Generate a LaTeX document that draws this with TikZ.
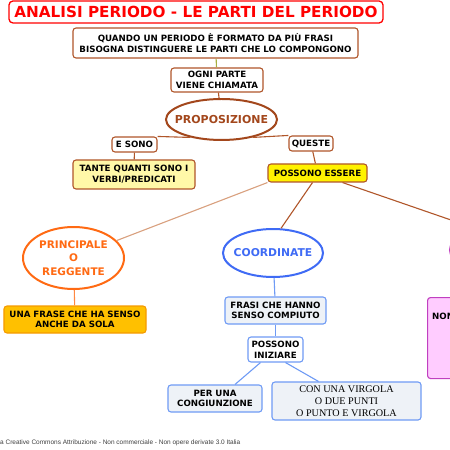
\documentclass[tikz,border=0pt]{standalone}
\usepackage{fontspec}
\setmainfont{DejaVu Sans}
\newfontfamily\serifrm{Liberation Serif}
\newfontfamily\footfont{Liberation Sans}
\usetikzlibrary{shapes.geometric}
\definecolor{brownb}{HTML}{B0562A}
\definecolor{propbrown}{HTML}{A3471C}
\definecolor{tan}{HTML}{D9A07E}
\definecolor{olive}{HTML}{A8B040}
\definecolor{orng}{HTML}{FF6A13}
\definecolor{orngbox}{HTML}{FFC000}
\definecolor{orngbd}{HTML}{F59A00}
\definecolor{bluec}{HTML}{3F6BF5}
\definecolor{blueb}{HTML}{6F9BF5}
\definecolor{bluefill}{HTML}{EEF2F7}
\definecolor{paleyel}{HTML}{FFF8A8}
\definecolor{purp}{HTML}{C040C0}
\definecolor{pinkf}{HTML}{FFCCFF}
\tikzset{
  bx/.style={draw=brownb, line width=1.1pt, rounded corners=3pt, fill=white, align=center,
    font=\bfseries\fontsize{8.7}{10.7}\selectfont, inner sep=0pt},
  bbx/.style={bx, draw=blueb, fill=bluefill},
  ell/.style={ellipse, line width=2pt, fill=white, inner sep=0pt},
  elltext/.style={align=center, inner sep=0pt},
  con/.style={line width=1.1pt, draw=brownb},
}
\begin{document}
\begin{tikzpicture}[x=1bp,y=-1bp]
\useasboundingbox (0,0) rectangle (450,450);
\clip (0,0) rectangle (450,450);
\fill[white] (0,0) rectangle (450,450);

% nodes
\node[bx, draw=red, text=red, line width=1.3pt, rounded corners=4pt, minimum width=374bp, minimum height=22bp,
  font=\bfseries\fontsize{15.3}{17}\selectfont] (title) at (196,12) {ANALISI PERIODO - LE PARTI DEL PERIODO};
\node[bx, minimum width=285bp, minimum height=30bp] (q) at (215.5,43)
  {QUANDO UN PERIODO È FORMATO DA PIÙ FRASI\\BISOGNA DISTINGUERE LE PARTI CHE LO COMPONGONO};
\node[bx, minimum width=92bp, minimum height=24bp] (ogni) at (217,80) {OGNI PARTE\\VIENE CHIAMATA};
\node[ell, draw=propbrown, minimum width=111bp, minimum height=41bp] (prop) at (221.5,119.5) {};
\node[elltext, text=propbrown, font=\bfseries\fontsize{11}{13}\selectfont] (propt) at (prop.center) {PROPOSIZIONE};
\node[bx, minimum width=45bp, minimum height=15bp] (esono) at (134.5,144.5) {E SONO};
\node[bx, minimum width=44bp, minimum height=15bp] (queste) at (311,143.5) {QUESTE};
\node[bx, fill=paleyel, minimum width=122bp, minimum height=29bp] (tante) at (134,174.5)
  {TANTE QUANTI SONO I\\VERBI/PREDICATI};
\node[bx, fill=yellow, minimum width=99bp, minimum height=18bp] (poss) at (317.5,173) {POSSONO ESSERE};
\node[ell, draw=orng, minimum width=101bp, minimum height=62bp] (princ) at (73.5,258) {};
\node[elltext, text=orng, font=\bfseries\fontsize{10.5}{13.5}\selectfont] (princt) at (princ.center)
  {PRINCIPALE\\O\\REGGENTE};
\node[ell, draw=bluec, minimum width=100bp, minimum height=48bp] (coord) at (273,253) {};
\node[elltext, text=bluec, font=\bfseries\fontsize{10.8}{13}\selectfont] (coordt) at (coord.center) {COORDINATE};
\node[ell, draw=purp, minimum width=100bp, minimum height=50bp] (sub) at (500,250) {};
\node[bx, fill=orngbox, draw=orngbd, minimum width=142bp, minimum height=27bp] (una) at (75,319.5)
  {UNA FRASE CHE HA SENSO\\ANCHE DA SOLA};
\node[bbx, minimum width=101bp, minimum height=27bp] (frasi) at (275.5,310.5) {FRASI CHE HANNO\\SENSO COMPIUTO};
\node[bbx, fill=white, minimum width=55bp, minimum height=25bp] (possin) at (275.5,349.5) {POSSONO\\INIZIARE};
\node[bbx, minimum width=94bp, minimum height=27bp] (per) at (215,398.5) {PER UNA\\CONGIUNZIONE};
\node[bbx, minimum width=149bp, minimum height=38bp, font=\serifrm\fontsize{10.2}{11.8}\selectfont] (conv) at (346.5,401)
  {CON UNA VIRGOLA\\O DUE PUNTI\\O PUNTO E VIRGOLA};
\node[draw=purp, fill=pinkf, line width=1.1pt, rounded corners=3pt, minimum width=70bp, minimum height=81bp,
  anchor=north west, inner sep=0pt] (nonbox) at (427,297) {};
\node[anchor=west, font=\bfseries\fontsize{8.7}{10}\selectfont, inner sep=0pt] (nontxt) at (432,316) {NON};

% connectors
\draw[line width=1.1pt, draw=olive] (q) -- (ogni);
\draw[con] (ogni) -- (prop);
\draw[con] (prop.-150) -- (esono.north east);
\draw[con] (prop.-30) -- (queste.north west);
\draw[con] (esono) -- (tante);
\draw[con] (queste) -- (poss);
\draw[con, draw=tan] (poss.south west) -- (princ.22);
\draw[con] ([xshift=-5bp]poss.south) -- (coord.72);
\draw[con] ([xshift=25bp]poss.south) -- (sub.140);
\draw[con, draw=orng!80] (princ) -- (una);
\draw[con, draw=blueb] (coord) -- (frasi);
\draw[con, draw=blueb] (frasi) -- (possin);
\draw[con, draw=blueb] ([xshift=-15bp]possin.south) -- ([xshift=20bp]per.north);
\draw[con, draw=blueb] ([xshift=10bp]possin.south) -- ([xshift=-28bp]conv.north);

\node[anchor=west, inner sep=0pt, text=black!75, font=\footfont\fontsize{6.5}{8}\selectfont] (foot) at (0,443)
  {a Creative Commons Attribuzione - Non commerciale - Non opere derivate 3.0 Italia};
\end{tikzpicture}
\end{document}
